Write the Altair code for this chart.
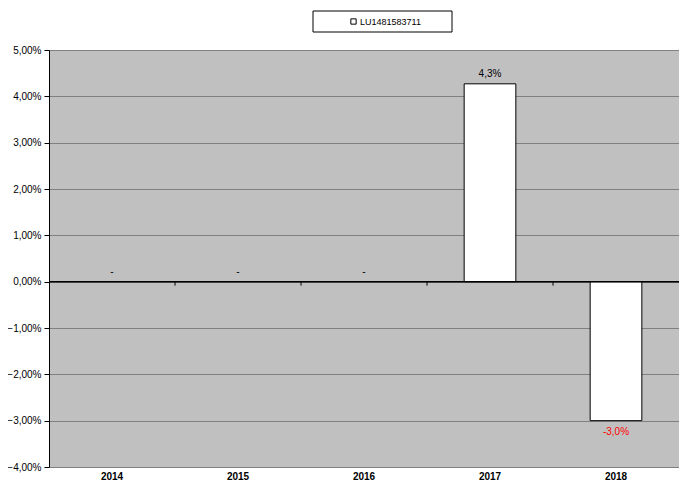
import altair as alt
import pandas as pd

# ---- data ----
years = ["2014", "2015", "2016", "2017", "2018"]
values = [None, None, None, 0.0427, -0.030]
labels = ["-", "-", "-", "4,3%", "-3,0%"]
series = "LU1481583711"
y_ticks = [-0.04, -0.03, -0.02, -0.01, 0.0, 0.01, 0.02, 0.03, 0.04, 0.05]

df = pd.DataFrame({"year": years, "value": values, "label": labels})
df["series"] = series
df["pos"] = df["value"].fillna(0.0)
bounds = pd.DataFrame({"year": years[:-1]})
zero = pd.DataFrame({"z": [0.0]})
box = pd.DataFrame({"b": [1]})

FONT = "Liberation Sans"
xs = alt.Scale(domain=years, paddingInner=0.59, paddingOuter=0.295)
ys = alt.Scale(domain=[-0.04, 0.05], nice=False, zero=False)

x_axis = alt.Axis(title=None, labelAngle=0, labelFontWeight="bold", labelFontSize=10,
                  labelFont=FONT, labelColor="black", domain=False, ticks=False,
                  labelPadding=4, grid=False)
y_axis = alt.Axis(title=None, values=y_ticks,
                  labelExpr="replace(format(datum.value, '.2%'), '.', ',')",
                  grid=True, gridColor="#808080", gridWidth=1,
                  domainColor="black", domainWidth=1, tickColor="black", tickSize=5,
                  labelFont=FONT, labelFontSize=10, labelColor="black", labelPadding=3)

bars = alt.Chart(df).transform_filter("isValid(datum.value)").mark_bar(
    stroke="black", strokeWidth=1
).encode(
    x=alt.X("year:N", scale=xs, axis=x_axis),
    y=alt.Y("value:Q", scale=ys, axis=y_axis),
    y2=alt.datum(0),
    color=alt.Color("series:N", scale=alt.Scale(range=["white"]),
                    legend=alt.Legend(orient="none", legendX=300, legendY=-33, title=None,
                                      symbolType="square", symbolSize=28,
                                      symbolStrokeColor="black", symbolStrokeWidth=1,
                                      labelFont=FONT, labelFontSize=9, labelColor="black",
                                      padding=0, symbolOffset=0, labelOffset=2)),
)

zero_rule = alt.Chart(zero).mark_rule(color="black", strokeWidth=1.5).encode(
    y=alt.Y("z:Q", scale=ys)
)

ticks = alt.Chart(bounds).mark_rule(color="black", strokeWidth=1, y2Offset=4,
                                    xOffset=37.2).encode(
    x=alt.X("year:N", scale=xs, bandPosition=1),
    y=alt.datum(0),
    y2=alt.datum(0),
)

text_pos = alt.Chart(df).transform_filter("datum.pos >= 0").mark_text(
    font=FONT, fontSize=10, dy=-10, baseline="middle"
).encode(
    x=alt.X("year:N", scale=xs),
    y=alt.Y("pos:Q", scale=ys),
    text="label:N",
    color=alt.value("black"),
)

text_neg = alt.Chart(df).transform_filter("datum.pos < 0").mark_text(
    font=FONT, fontSize=10, dy=11, baseline="middle"
).encode(
    x=alt.X("year:N", scale=xs),
    y=alt.Y("pos:Q", scale=ys),
    text="label:N",
    color=alt.value("#FF0000"),
)

legend_box = alt.Chart(box).mark_rect(fill="white", stroke="black", strokeWidth=1).encode(
    x=alt.value(264), x2=alt.value(403), y=alt.value(-39), y2=alt.value(-18)
)

chart = alt.layer(legend_box, bars, zero_rule, ticks, text_pos, text_neg).properties(
    width=630, height=417,
    autosize=alt.AutoSizeParams(type="none"),
    padding={"left": 41, "top": 42, "right": 0, "bottom": 17},
).configure(font=FONT).configure_view(fill="#C0C0C0", stroke=None)

chart.save("out.html", embed_options={"renderer": "svg", "actions": False})
